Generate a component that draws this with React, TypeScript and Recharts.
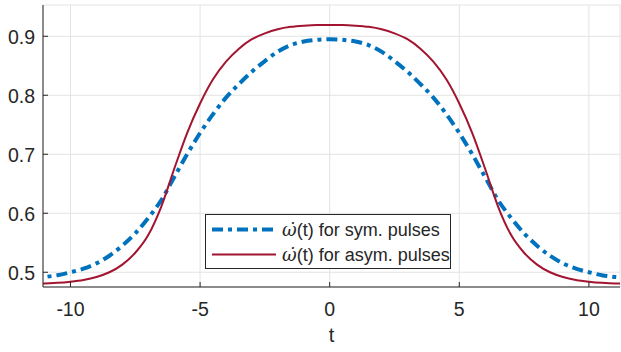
import React from "react"
import {
  LineChart,
  Line,
  XAxis,
  YAxis,
  CartesianGrid,
  Legend,
} from "recharts"

// time axis (symmetric pulse)
const tValues = [
  -11.5, -11, -10.5, -10, -9.5, -9, -8.5, -8, -7.5, -7, -6.5, -6, -5.5, -5, -4.5, -4,
  -3.5, -3, -2.5, -2, -1.5, -1, -0.5, 0, 0.5, 1, 1.5, 2, 2.5, 3, 3.5, 4, 4.5, 5, 5.5,
  6, 6.5, 7, 7.5, 8, 8.5, 9, 9.5, 10, 10.5, 11, 11.5,
]

const symPulse = [
  0.49, 0.492, 0.495, 0.5, 0.506, 0.515, 0.528, 0.545, 0.566, 0.592, 0.622, 0.661,
  0.7, 0.736, 0.768, 0.796, 0.819, 0.84, 0.858, 0.874, 0.885, 0.891, 0.894, 0.895,
  0.894, 0.891, 0.885, 0.874, 0.858, 0.84, 0.819, 0.796, 0.768, 0.736, 0.7, 0.661,
  0.622, 0.592, 0.566, 0.545, 0.528, 0.515, 0.506, 0.5, 0.495, 0.492, 0.49,
]

const asymPulse = [
  0.481, 0.481, 0.482, 0.484, 0.487, 0.492, 0.5, 0.513, 0.533, 0.563, 0.611, 0.675,
  0.736, 0.786, 0.827, 0.857, 0.879, 0.895, 0.905, 0.912, 0.916, 0.918, 0.919, 0.919,
  0.919, 0.918, 0.916, 0.912, 0.905, 0.895, 0.879, 0.857, 0.827, 0.786, 0.736, 0.675,
  0.611, 0.563, 0.533, 0.513, 0.5, 0.492, 0.487, 0.484, 0.482, 0.481, 0.481,
]

const xTicks = [-10, -5, 0, 5, 10]
const yTicks = [0.5, 0.6, 0.7, 0.8, 0.9]

const data = tValues.map((t, i) => ({ t, sym: symPulse[i], asym: asymPulse[i] }))

const AXIS = "#262626"
const BLUE = "#0072BD"
const RED = "#A2142F"
const FONT = "'Liberation Sans', Arial, Helvetica, sans-serif"
const X_MARGIN = 15.5
const Y_MARGIN = 8

const XTick = (props: any) => {
  const { x, y, payload } = props
  const axisY = y - X_MARGIN
  return (
    <g>
      <line x1={x} x2={x} y1={axisY} y2={axisY - 5} stroke={AXIS} />
      <text x={x} y={y} dy="0.71em" textAnchor="middle" fill={AXIS} fontSize={19.5} fontFamily={FONT}>
        {payload.value}
      </text>
    </g>
  )
}

const YTick = (props: any) => {
  const { x, y, payload } = props
  const axisX = x + Y_MARGIN
  return (
    <g>
      <line x1={axisX} x2={axisX + 5} y1={y} y2={y} stroke={AXIS} />
      <text x={x} y={y + 1} dy="0.355em" textAnchor="end" fill={AXIS} fontSize={19.5} fontFamily={FONT}>
        {payload.value.toFixed(1)}
      </text>
    </g>
  )
}

const omega = (
  <span style={{ fontFamily: "'DejaVu Serif', serif", fontStyle: "italic" }}>ω̇</span>
)

const renderLegend = () => (
  <div
    style={{
      border: `1px solid ${AXIS}`,
      background: "#fff",
      width: 244,
      paddingTop: 2,
      paddingBottom: 1,
      fontFamily: FONT,
      fontSize: 18,
      color: AXIS,
    }}
  >
    {[
      { label: " for sym. pulses", color: BLUE, width: 4, dash: "11 5 4 5" },
      { label: " for asym. pulses", color: RED, width: 2, dash: undefined },
    ].map((row) => (
      <div key={row.label} style={{ display: "flex", alignItems: "center", height: 25, whiteSpace: "nowrap" }}>
        <svg width={76} height={25} style={{ flex: "none" }}>
          <line x1={6} x2={70} y1={12.5} y2={12.5} stroke={row.color} strokeWidth={row.width} strokeDasharray={row.dash} />
        </svg>
        <span>
          {omega}(t){row.label}
        </span>
      </div>
    ))}
  </div>
)

export default function App() {
  return (
    <div style={{ position: "absolute", left: 0, top: 0, background: "#fff" }}>
      <LineChart width={621} height={352} data={data} margin={{ top: 5, right: 1, left: 0, bottom: 0 }}>
        <CartesianGrid stroke="#e3e3e3" strokeWidth={1} />
        <XAxis
          dataKey="t"
          type="number"
          domain={[-11.06, 11.2]}
          allowDataOverflow
          ticks={xTicks}
          height={65}
          tickSize={0}
          tickMargin={X_MARGIN}
          tick={<XTick />}
          axisLine={{ stroke: AXIS }}
          label={{ value: "t", position: "insideBottom", offset: 10, fill: AXIS, fontSize: 20, fontFamily: FONT }}
        />
        <XAxis
          xAxisId="top"
          dataKey="t"
          type="number"
          orientation="top"
          mirror
          domain={[-11.06, 11.2]}
          allowDataOverflow
          ticks={xTicks}
          height={0}
          tickSize={5}
          tick={() => <g />}
          tickLine={{ stroke: AXIS }}
          axisLine={{ stroke: AXIS }}
        />
        <YAxis
          type="number"
          domain={[0.475, 0.953]}
          allowDataOverflow
          ticks={yTicks}
          width={43}
          tickSize={0}
          tickMargin={Y_MARGIN}
          tick={<YTick />}
          axisLine={{ stroke: AXIS }}
        />
        <YAxis
          yAxisId="right"
          type="number"
          orientation="right"
          mirror
          domain={[0.475, 0.953]}
          allowDataOverflow
          ticks={yTicks}
          width={0}
          tickSize={5}
          tick={() => <g />}
          tickLine={{ stroke: AXIS }}
          axisLine={{ stroke: AXIS }}
        />
        <Line
          type="monotone"
          dataKey="sym"
          stroke={BLUE}
          strokeWidth={4}
          strokeDasharray="11 5 4 5"
          dot={false}
          isAnimationActive={false}
        />
        <Line
          type="monotone"
          dataKey="asym"
          stroke={RED}
          strokeWidth={2}
          dot={false}
          isAnimationActive={false}
        />
        <Legend
          layout="vertical"
          align="center"
          verticalAlign="middle"
          content={renderLegend}
          wrapperStyle={{ left: 205, top: 214, width: "auto" }}
        />
      </LineChart>
    </div>
  )
}
